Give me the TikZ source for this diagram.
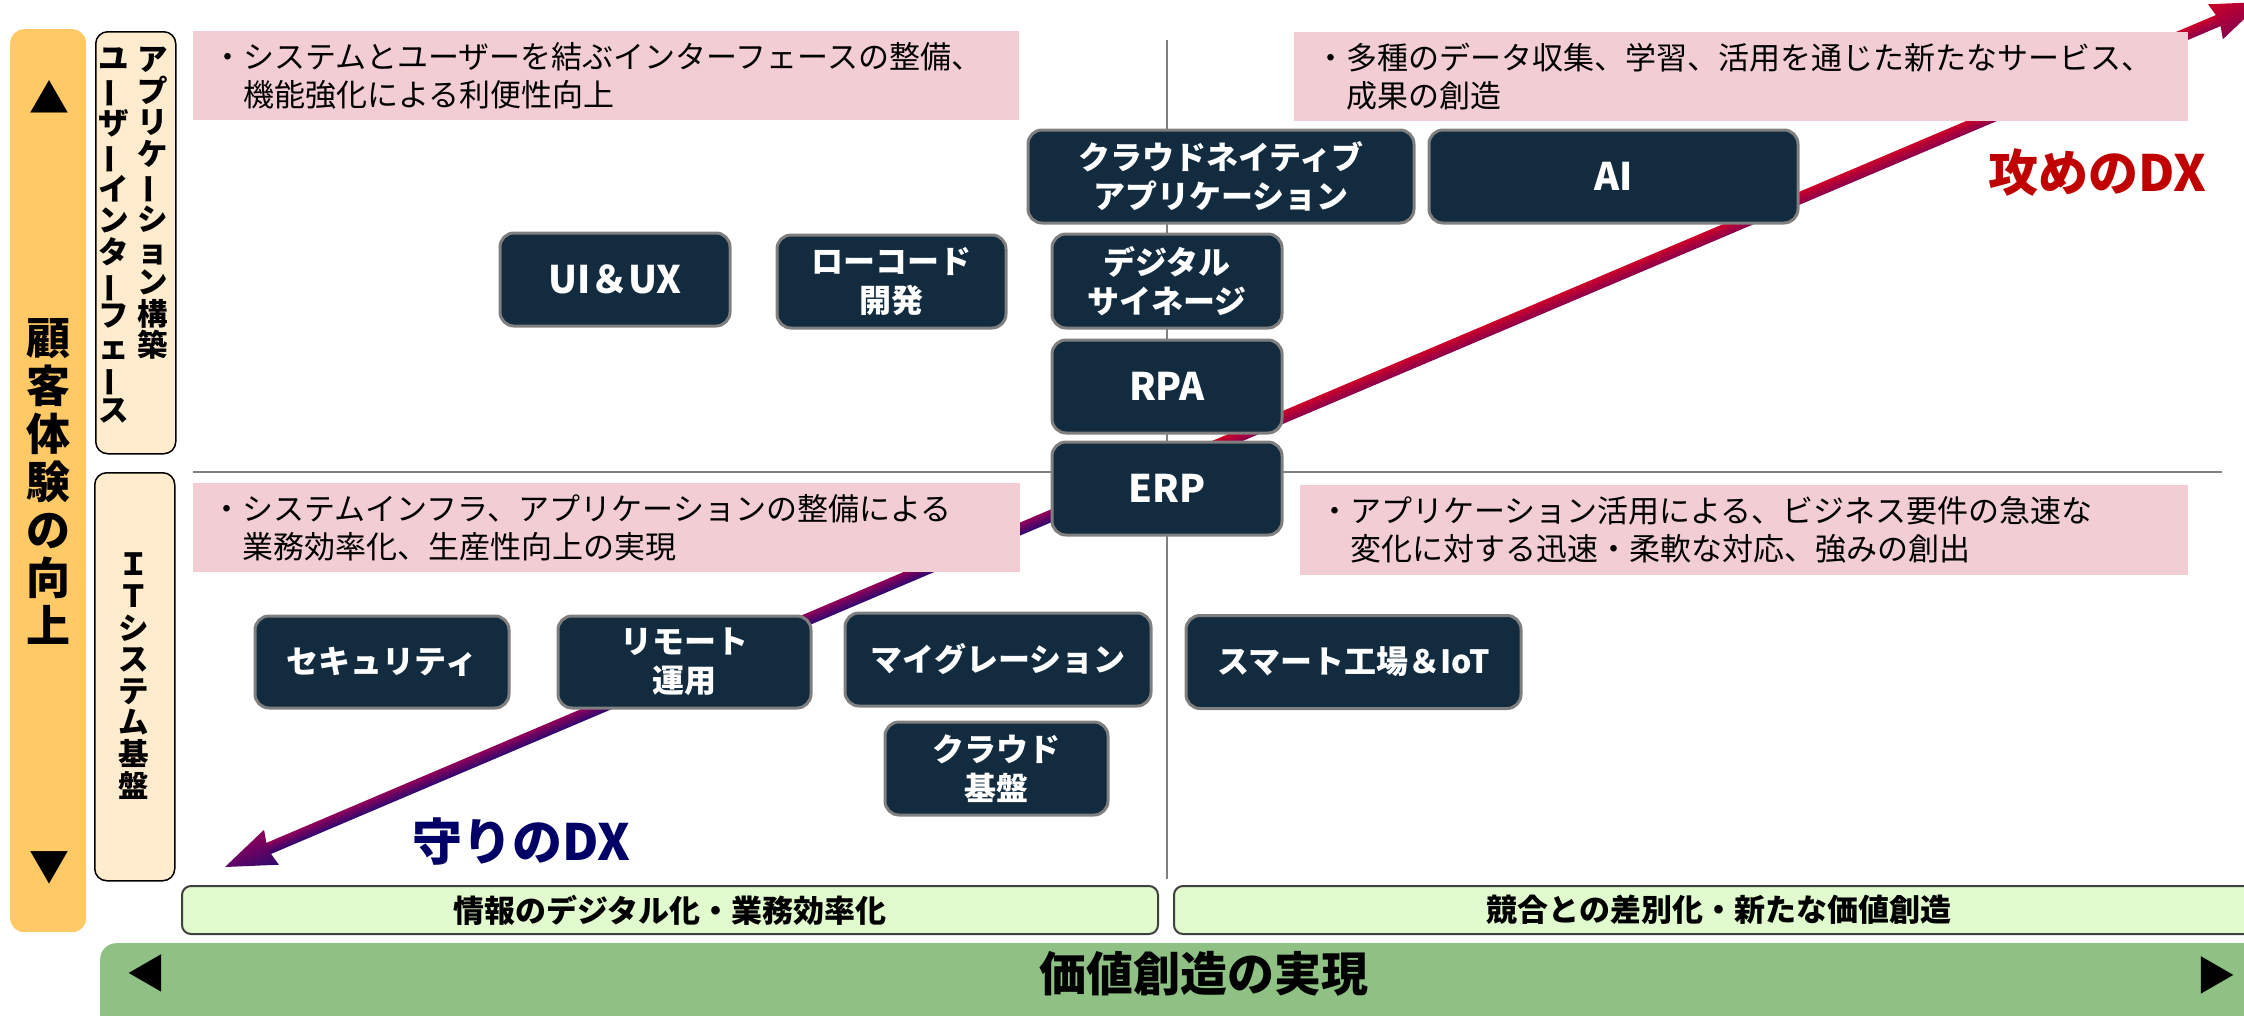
\documentclass[tikz,border=0pt]{standalone}
\usepackage{fontspec}
\usepackage{graphicx}
\setmainfont{Noto Sans CJK JP}
\usetikzlibrary{calc}
\definecolor{navybox}{HTML}{122B3F}
\definecolor{boxedge}{HTML}{7F7F7F}
\definecolor{pinkfill}{HTML}{F2CED4}
\definecolor{orangefill}{HTML}{FFC965}
\definecolor{tanfill}{HTML}{FFEBCD}
\definecolor{limefill}{HTML}{E1FBCE}
\definecolor{greenfill}{HTML}{8FC184}
\definecolor{gridgray}{HTML}{808080}
\definecolor{atkred}{HTML}{CC0028}
\definecolor{atkmag}{HTML}{88004E}
\definecolor{defmag}{HTML}{900058}
\definecolor{defpur}{HTML}{2C0870}
\definecolor{semeRed}{HTML}{C00000}
\definecolor{mamoriNavy}{HTML}{000066}
\newcommand\vlong{\rotatebox[origin=c]{90}{ー}}

\begin{document}
\begin{tikzpicture}[x=1pt,y=-1pt,
  darkbox/.style={draw=boxedge, line width=3pt, fill=navybox, rounded corners=14pt, text=white, font=\bfseries\fontsize{32}{39}\selectfont, align=center, inner sep=0pt},
  bigtxt/.style={font=\bfseries\fontsize{38}{44}\selectfont},
  pinkbox/.style={fill=pinkfill, anchor=north west, inner ysep=0pt, align=left, font=\fontsize{31}{38}\selectfont},
  tanbox/.style={draw=black, line width=1.5pt, fill=tanfill, rounded corners=12pt, anchor=north west, inner sep=0pt},
  vtext/.style={font=\bfseries\fontsize{30.5}{31.6}\selectfont, align=center, inner sep=0pt},
  limebox/.style={draw=black!75, line width=2pt, fill=limefill, rounded corners=9pt, anchor=north west, inner sep=0pt, font=\bfseries\fontsize{31}{36}\selectfont},
  gridline/.style={draw=gridgray, line width=2pt},
  tri/.style={font=\fontsize{40}{40}\selectfont, inner sep=0pt}
]
\useasboundingbox (0,0) rectangle (2244,1015);
\clip (0,0) rectangle (2244,1015);

% grid lines
\coordinate (vtop) at (1167,40);
\coordinate (vbot) at (1167,879);
\coordinate (hleft) at (193,472);
\coordinate (hright) at (2222,472);
\draw[gridline] (vtop) -- (vbot);
\draw[gridline] (hleft) -- (hright);

% offensive DX arrow (up-right)
\begin{scope}[transform canvas={shift={(1166pt,-467pt)},rotate=22.99}]
  \shade[top color=atkred, bottom color=atkmag] (0pt,6pt) rectangle (1146pt,-6pt);
  \shade[top color=atkred, bottom color=atkmag] (1143pt,6pt) -- (1140pt,19pt) -- (1190.6pt,0pt) -- (1140pt,-19pt) -- (1143pt,-6pt) -- cycle;
\end{scope}
% defensive DX arrow (down-left)
\begin{scope}[transform canvas={shift={(1166pt,-467pt)},rotate=203.03}]
  \shade[top color=defpur, bottom color=defmag] (0pt,6pt) rectangle (978pt,-6pt);
  \shade[top color=defpur, bottom color=defmag] (975pt,6pt) -- (972pt,19pt) -- (1022.5pt,0pt) -- (972pt,-19pt) -- (975pt,-6pt) -- cycle;
\end{scope}

% pink description boxes
\node[pinkbox, inner xsep=19pt, text width=788pt, minimum width=826pt, minimum height=89pt] (pTL) at (193,31)
  {・システムとユーザーを結ぶインターフェースの整備、\\\phantom{・}機能強化による利便性向上};
\node[pinkbox, inner xsep=21pt, text width=852pt, minimum width=894pt, minimum height=89pt] (pTR) at (1294,32)
  {・多種のデータ収集、学習、活用を通じた新たなサービス、\\\phantom{・}成果の創造};
\node[pinkbox, inner xsep=18pt, text width=791pt, minimum width=827pt, minimum height=89pt] (pBL) at (193,483)
  {・システムインフラ、アプリケーションの整備による\\\phantom{・}業務効率化、生産性向上の実現};
\node[pinkbox, inner xsep=19pt, text width=850pt, minimum width=888pt, minimum height=90pt] (pBR) at (1300,485)
  {・アプリケーション活用による、ビジネス要件の急速な\\\phantom{・}変化に対する迅速・柔軟な対応、強みの創出};

% dark boxes
\node[darkbox, minimum width=386pt, minimum height=93pt] (cna) at (1221,176.5) {クラウドネイティブ\\アプリケーション};
\node[darkbox, bigtxt, minimum width=369pt, minimum height=93pt] (ai) at (1613.5,176.5) {AI};
\node[darkbox, bigtxt, minimum width=230pt, minimum height=93pt] (uiux) at (615,279.5) {UI＆UX};
\node[darkbox, minimum width=229pt, minimum height=93pt] (lowcode) at (891.5,281.5) {ローコード\\開発};
\node[darkbox, minimum width=230pt, minimum height=94pt] (signage) at (1167,281) {デジタル\\サイネージ};
\node[darkbox, bigtxt, minimum width=230pt, minimum height=93pt] (rpa) at (1167,386.5) {RPA};
\node[darkbox, bigtxt, minimum width=230pt, minimum height=93pt] (erp) at (1167,488.5) {ERP};
\node[darkbox, minimum width=254pt, minimum height=92pt] (security) at (382,662) {セキュリティ};
\node[darkbox, minimum width=253pt, minimum height=92pt] (remote) at (684.5,662) {リモート\\運用};
\node[darkbox, minimum width=306pt, minimum height=93pt] (migration) at (998,659.5) {マイグレーション};
\node[darkbox, minimum width=223pt, minimum height=93pt] (cloudbase) at (996.5,768.5) {クラウド\\基盤};
\node[darkbox, minimum width=335pt, minimum height=93pt] (smart) at (1353.5,662) {スマート工場＆IoT};

% left bars
\node[fill=orangefill, rounded corners=14pt, anchor=north west, inner sep=0pt, minimum width=76pt, minimum height=903pt] (obar) at (10,29) {};
\node[tri] (tup) at (49,97) {▲};
\node[tri] (tdown) at (49,868) {▼};
\node[font=\bfseries\fontsize{44}{48}\selectfont, align=center, inner sep=0pt] (cxtext) at (48,481) {顧\\客\\体\\験\\の\\向\\上};

\node[tanbox, minimum width=80pt, minimum height=422pt] (tanA) at (95,31) {};
\node[tanbox, minimum width=80pt, minimum height=408pt] (tanB) at (94,472) {};
\node[vtext, anchor=north] (colA) at (153,47) {ア\\プ\\リ\\ケ\\\vlong\\シ\\ョ\\ン\\構\\築};
\node[vtext, anchor=north] (colB) at (114,47) {ユ\\\vlong\\ザ\\\vlong\\イ\\ン\\タ\\\vlong\\フ\\ェ\\\vlong\\ス};
\node[vtext] (colC) at (134,676) {Ｉ\\Ｔ\\シ\\ス\\テ\\ム\\基\\盤};

% bottom bars
\node[limebox, minimum width=976pt, minimum height=48pt] (limeL) at (181,885) {情報のデジタル化・業務効率化};
\node[limebox, minimum width=1090pt, minimum height=48pt] (limeR) at (1173,885) {競合との差別化・新たな価値創造};
\node[fill=greenfill, rounded corners=16pt, anchor=north west, inner sep=0pt, minimum width=2200pt, minimum height=120pt] (gbar) at (100,943) {};
\node[font=\bfseries\fontsize{47}{50}\selectfont, inner sep=0pt] (gtext) at (1204,974) {価値創造の実現};
\node[tri] (tleft) at (146,973) {◀};
\node[tri] (tright) at (2216,975) {▶};

% DX labels
\node[text=semeRed, font=\bfseries\fontsize{50}{55}\selectfont, inner sep=0pt] (seme) at (2097,172) {攻めのDX};
\node[text=mamoriNavy, font=\bfseries\fontsize{50}{55}\selectfont, inner sep=0pt] (mamori) at (521,842) {守りのDX};
\end{tikzpicture}
\end{document}
